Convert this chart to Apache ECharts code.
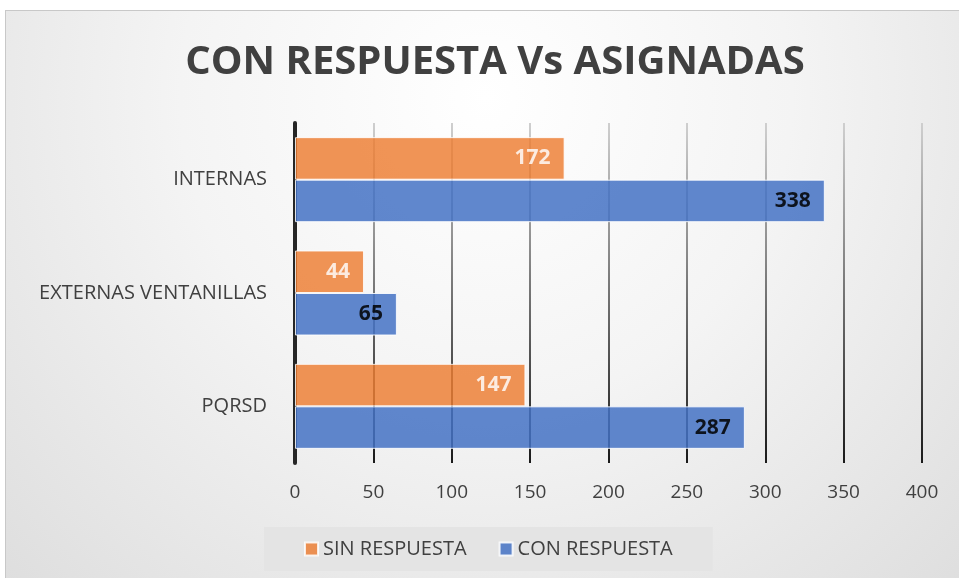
<!DOCTYPE html>
<html lang="es">
<head>
	<meta charset="UTF-8">
	<title>CON RESPUESTA Vs ASIGNADAS</title>
</head>
<style>
	html, body { margin: 0; padding: 0; background: #fff; }
	#wrap {
		position: absolute; left: 5px; top: 10px; width: 960px; height: 572px;
		border: 1px solid #c8c8c8;
		background: radial-gradient(ellipse at 50% 15%, #ffffff 0%, #f4f4f4 45%, #dedede 100%);
	}
	#main { width: 959px; height: 578px; position: absolute; left: -5px; top: -10px; }
</style>
<body>
	<div id="wrap"><div id="main"></div></div>
	<script src="https://cdn.jsdelivr.net/npm/echarts@6/dist/echarts.min.js"></script>
	<script>
		var categories = ['PQRSD', 'EXTERNAS VENTANILLAS', 'INTERNAS'];
		var sinRespuesta = [147, 44, 172];
		var conRespuesta = [287, 65, 338];
		var seriesNames = ['SIN RESPUESTA', 'CON RESPUESTA'];

		var font = 'Open Sans';
		var myChart = echarts.init(document.getElementById('main'));

		var option = {
			title: {
				text: 'CON RESPUESTA Vs ASIGNADAS',
				left: 489,
				textAlign: 'center',
				top: 37,
				textStyle: { fontFamily: font, fontSize: 40, fontWeight: 'bold', color: '#404040' }
			},
			legend: {
				data: seriesNames,
				bottom: 8,
				left: 263,
				padding: [12, 40, 12, 40],
				backgroundColor: '#e4e4e4',
				itemWidth: 13,
				itemHeight: 13,
				itemGap: 32,
				icon: 'rect',
				textStyle: { fontFamily: font, fontSize: 20, color: '#404040' }
			},
			grid: { left: 294, right: 38, top: 122, bottom: 116 },
			xAxis: {
				type: 'value',
				min: 0, max: 400, interval: 50,
				axisLine: { show: false },
				axisTick: { show: false },
				axisLabel: { fontFamily: font, fontSize: 19, color: '#404040', margin: 20 },
				splitLine: {
					lineStyle: {
						width: 2,
						color: new echarts.graphic.LinearGradient(0, 122, 0, 462, [
							{ offset: 0, color: '#cfcfcf' },
							{ offset: 1, color: '#1a1a1a' }
						], true)
					}
				}
			},
			yAxis: {
				type: 'category',
				data: categories,
				axisLine: { lineStyle: { color: '#262626', width: 4 } },
				axisTick: { show: false },
				axisLabel: { fontFamily: font, fontSize: 20, color: '#404040', margin: 28 }
			},
			series: [
				{
					name: seriesNames[0],
					type: 'bar',
					data: sinRespuesta,
					barGap: '0%',
					barCategoryGap: '25%',
					itemStyle: { color: '#ED7D31', opacity: 0.82, borderColor: '#ffffff', borderWidth: 1 },
					label: {
						show: true, position: 'insideRight', distance: 14,
						fontFamily: font, fontSize: 21, fontWeight: 'bold', color: '#ffffff'
					}
				},
				{
					name: seriesNames[1],
					type: 'bar',
					data: conRespuesta,
					barGap: '0%',
					barCategoryGap: '25%',
					itemStyle: { color: '#4472C4', opacity: 0.85, borderColor: '#ffffff', borderWidth: 1 },
					label: {
						show: true, position: 'insideRight', distance: 14,
						fontFamily: font, fontSize: 21, fontWeight: 'bold', color: '#000000'
					}
				}
			]
		};
		myChart.setOption(option);
	</script>
</body>
</html>
